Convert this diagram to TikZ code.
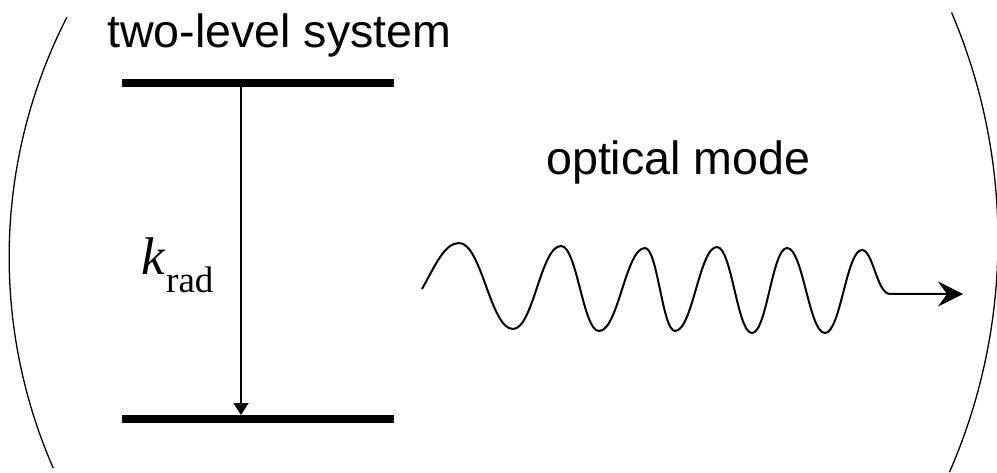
\documentclass[tikz,border=0pt]{standalone}
\usepackage{fontspec}
\setmainfont{Liberation Sans}
\newfontfamily\timesfont{Liberation Serif}
\usetikzlibrary{arrows.meta}
\tikzset{
  cavity/.style={line width=1.3pt},
  levelline/.style={line width=8pt},
  transition/.style={line width=1.5pt,-{Triangle[length=12pt,width=15pt]}},
  wave/.style={line width=2pt,line join=round,-{Stealth[length=25pt,width=25pt,inset=9pt]}},
  biglabel/.style={anchor=base west,inner sep=0pt,font=\fontsize{46.6}{56}\selectfont}
}
\begin{document}
\begin{tikzpicture}[x=1pt,y=-1pt]
\useasboundingbox (0,0) rectangle (997,473);
\clip (0,0) rectangle (997,473);
% cavity mirrors
\coordinate (LT) at (67,17);
\coordinate (RT) at (951.5,12.4);
\draw[cavity] (LT) arc[start angle=207.1, end angle=156.4, radius=527];
\draw[cavity] (RT) arc[start angle=-23.1, end angle=23.6, radius=580];
% levels
\coordinate (upL) at (122,83);
\coordinate (upR) at (394,83);
\coordinate (loL) at (122,419);
\coordinate (loR) at (394,419);
\draw[levelline] (upL) -- (upR);
\draw[levelline] (loL) -- (loR);
\coordinate (ex) at (241,87);
\coordinate (gr) at (241,415);
\draw[transition] (ex) -- (gr);
% labels
\node[biglabel] (title) at (107,48) {two-level system};
\node[biglabel] (mode) at (546,175) {optical mode};
\node[anchor=base west,inner sep=0pt,font=\timesfont\fontsize{53}{60}\selectfont\itshape] (k) at (141,275) {k};
\node[anchor=base west,inner sep=0pt,font=\timesfont\fontsize{37}{44}\selectfont] (rad) at (166,293) {rad};
% wave
\coordinate (ws) at (422,289);
\coordinate (wtip) at (963,294);
\draw[wave] (ws)
  .. controls (434,268) and (444,243) .. (459,243)
  .. controls (481.7,243) and (490.3,329) .. (513,329)
  .. controls (533.2,329) and (540.8,246) .. (561,246)
  .. controls (577,246) and (583,331) .. (599,331)
  .. controls (618.3,331) and (625.7,248) .. (645,248)
  .. controls (657.6,248) and (662.4,331) .. (675,331)
  .. controls (692.6,331) and (699.4,247) .. (717,247)
  .. controls (731.7,247) and (737.3,333) .. (752,333)
  .. controls (766.7,333) and (772.3,248) .. (787,248)
  .. controls (803,248) and (809,333) .. (825,333)
  .. controls (840.5,333) and (846.5,250) .. (862,250)
  .. controls (873,250) and (877,294) .. (890,294)
  -- (wtip);
\end{tikzpicture}
\end{document}
